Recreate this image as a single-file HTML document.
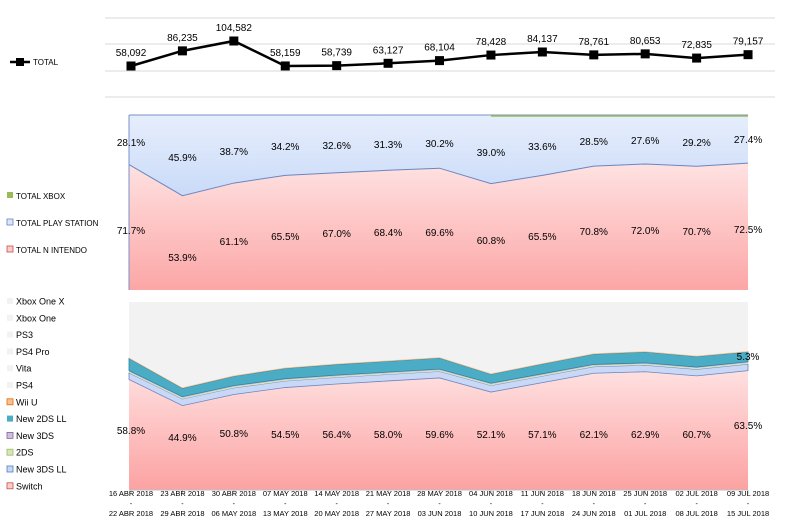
<!DOCTYPE html>
<html><head><meta charset="utf-8"><style>
body{margin:0;background:#fff;width:789px;height:525px;overflow:hidden}
svg{display:block;font-family:"Liberation Sans","DejaVu Sans",sans-serif}
</style></head><body>
<svg id="s" width="789" height="525" xmlns="http://www.w3.org/2000/svg">
<defs>
<linearGradient id="gr" x1="0" y1="0" x2="0" y2="1"><stop offset="0" stop-color="#ffe2e2"/><stop offset="1" stop-color="#fca6a6"/></linearGradient>
<linearGradient id="gb" x1="0" y1="0" x2="0" y2="1"><stop offset="0" stop-color="#e6eefc"/><stop offset="1" stop-color="#a9c4f4"/></linearGradient>
<linearGradient id="gr2" x1="0" y1="0" x2="0" y2="1"><stop offset="0" stop-color="#ffe0e0"/><stop offset="1" stop-color="#fca2a2"/></linearGradient>
</defs>
<g id="g"></g>
</svg>
<script>
var X=[],i;for(i=0;i<13;i++)X.push(131+i*51.42);
var tot=[58092,86235,104582,58159,58739,63127,68104,78428,84137,78761,80653,72835,79157];
var nin=[71.7,53.9,61.1,65.5,67.0,68.4,69.6,60.8,65.5,70.8,72.0,70.7,72.5];
var ps=[28.1,45.9,38.7,34.2,32.6,31.3,30.2,39.0,33.6,28.5,27.6,29.2,27.4];
var sw=[58.8,44.9,50.8,54.5,56.4,58.0,59.6,52.1,57.1,62.1,62.9,60.7,63.5];
var h='';
function t(x,y,s,sz,a){return '<text x="'+x+'" y="'+y+'" font-size="'+(sz||10)+'" text-anchor="'+(a||'middle')+'" fill="#000">'+s+'</text>';}
// top chart
[18,44,71,97].forEach(function(y){h+='<line x1="105" x2="775" y1="'+y+'" y2="'+y+'" stroke="#d9d9d9"/>';});
var ty=tot.map(function(v){return 66-(v-58092)*0.000538;});
h+='<polyline fill="none" stroke="#000" stroke-width="2.5" points="'+X.map(function(x,i){return x+','+ty[i]}).join(' ')+'"/>';
X.forEach(function(x,i){h+='<rect x="'+(x-4.5)+'" y="'+(ty[i]-4.5)+'" width="9" height="9" fill="#000"/>';h+=t(x,ty[i]-10,tot[i].toLocaleString('en-US'),10);});
h+='<line x1="10" x2="30" y1="62" y2="62" stroke="#000" stroke-width="2.5"/><rect x="16" y="58" width="8" height="8"/>'+t(33,65,'TOTAL',8,'start');
// middle chart
var T=115,B=290,H=175;
var ny=nin.map(function(v){return T+H*(1-v/100)});
h+='<rect x="129" y="'+T+'" width="619" height="'+H+'" fill="url(#gb)"/>';
h+='<polygon fill="url(#gr)" points="129,'+B+' '+X.map(function(x,i){return (i==0?129:i==12?748:x)+','+ny[i]}).join(' ')+' 748,'+B+'"/>';
h+='<polyline fill="none" stroke="#6a86c0" points="'+X.map(function(x,i){return (i==0?129:i==12?748:x)+','+ny[i]}).join(' ')+'"/>';
h+='<line x1="129" x2="129" y1="'+T+'" y2="'+B+'" stroke="#7a90c8"/><line x1="129" x2="748" y1="'+T+'" y2="'+T+'" stroke="#7a90c8"/>';
h+='<line x1="'+X[7]+'" x2="748" y1="'+(T+1)+'" y2="'+(T+1)+'" stroke="#9bbb59" stroke-width="1.5"/>';
var by=[142,157,151,146,145,144,143,152,146,141,140,142,139],ry=[230,257,241,236,233,232,232,240,236,231,230,231,229];
X.forEach(function(x,i){h+=t(x,by[i]+4,ps[i].toFixed(1)+'%');h+=t(x,ry[i]+4,nin[i].toFixed(1)+'%');});
h+='<rect x="7" y="192" width="6" height="6" fill="#9bbb59"/>'+t(16,199,'TOTAL XBOX',8,'start');
h+='<rect x="7" y="219" width="6" height="6" fill="#dbe6fa" stroke="#6a86c0" stroke-width=".8"/>'+t(16,226,'TOTAL PLAY STATION',8,'start');
h+='<rect x="7" y="246" width="6" height="6" fill="#fcc" stroke="#c0504d" stroke-width=".8"/>'+t(16,253,'TOTAL N INTENDO',8,'start');
// bottom chart
var T2=302,B2=490,H2=188;
function Y(v){return B2-H2*v/100;}
function xs(i){return i==0?129:i==12?748:X[i];}
h+='<rect x="129" y="'+T2+'" width="619" height="'+H2+'" fill="#f2f2f2"/>';
function band(lo,hi,fill,stroke){var p=[];for(i=0;i<13;i++)p.push(xs(i)+','+Y(hi[i]));for(i=12;i>=0;i--)p.push(xs(i)+','+Y(lo[i]));h+='<polygon points="'+p.join(' ')+'" fill="'+fill+'"'+(stroke?' stroke="'+stroke+'" stroke-width=".8"':'')+'/>';}
var l1=sw.map(function(v){return v+3.5}),l2=l1.map(function(v){return v+0.6}),l3=l2.map(function(v){return v+0.6});
var tealw=[6.5,4.5,5,5.5,5.7,5.8,5.9,4.8,5.2,5.5,5.8,5.6,5.3];
var l4=l3.map(function(v,i){return v+tealw[i]}),l5=l4.map(function(v){return v+0.4});
var z=sw.map(function(){return 0});
band(z,sw,'url(#gr2)');
band(sw,l1,'#c9d8f7','#6a86c0');
band(l1,l2,'#d7e4bd');
band(l2,l3,'#ccc0da');
band(l3,l4,'#4bacc6','#31859c');
band(l4,l5,'#fac090');
var sl=[430,437,433,434,434,434,434,434,434,434,434,434,425];
X.forEach(function(x,i){h+=t(x,sl[i]+4,sw[i].toFixed(1)+'%');});
h+=t(X[12],360,'5.3%');
h+='<line x1="129" x2="748" y1="'+B2+'" y2="'+B2+'" stroke="#bfbfbf"/>';
var d1=['16 ABR 2018','23 ABR 2018','30 ABR 2018','07 MAY 2018','14 MAY 2018','21 MAY 2018','28 MAY 2018','04 JUN 2018','11 JUN 2018','18 JUN 2018','25 JUN 2018','02 JUL 2018','09 JUL 2018'];
var d2=['22 ABR 2018','29 ABR 2018','06 MAY 2018','13 MAY 2018','20 MAY 2018','27 MAY 2018','03 JUN 2018','10 JUN 2018','17 JUN 2018','24 JUN 2018','01 JUL 2018','08 JUL 2018','15 JUL 2018'];
X.forEach(function(x,i){h+='<line x1="'+x+'" x2="'+x+'" y1="490" y2="494" stroke="#bfbfbf"/>';h+=t(x,496,d1[i],7.5)+t(x,506,'-',7)+t(x,516,d2[i],7.5);});
var leg=[['Xbox One X','#f2f2f2'],['Xbox One','#f2f2f2'],['PS3','#f2f2f2'],['PS4 Pro','#f2f2f2'],['Vita','#f2f2f2'],['PS4','#f2f2f2'],['Wii U','#fac090','#e46c0a'],['New 2DS LL','#4bacc6'],['New 3DS','#ccc0da','#8064a2'],['2DS','#d7e4bd','#9bbb59'],['New 3DS LL','#c9d8f7','#4f81bd'],['Switch','#fcc','#c0504d']];
leg.forEach(function(l,k){var y=301+k*16.8;h+='<rect x="7" y="'+(y-3)+'" width="6" height="6" fill="'+l[1]+'"'+(l[2]?' stroke="'+l[2]+'" stroke-width=".8"':'')+'/>'+t(16,y+3.5,l[0],9,'start');});
document.getElementById('g').innerHTML=h;
</script>
</body></html>
